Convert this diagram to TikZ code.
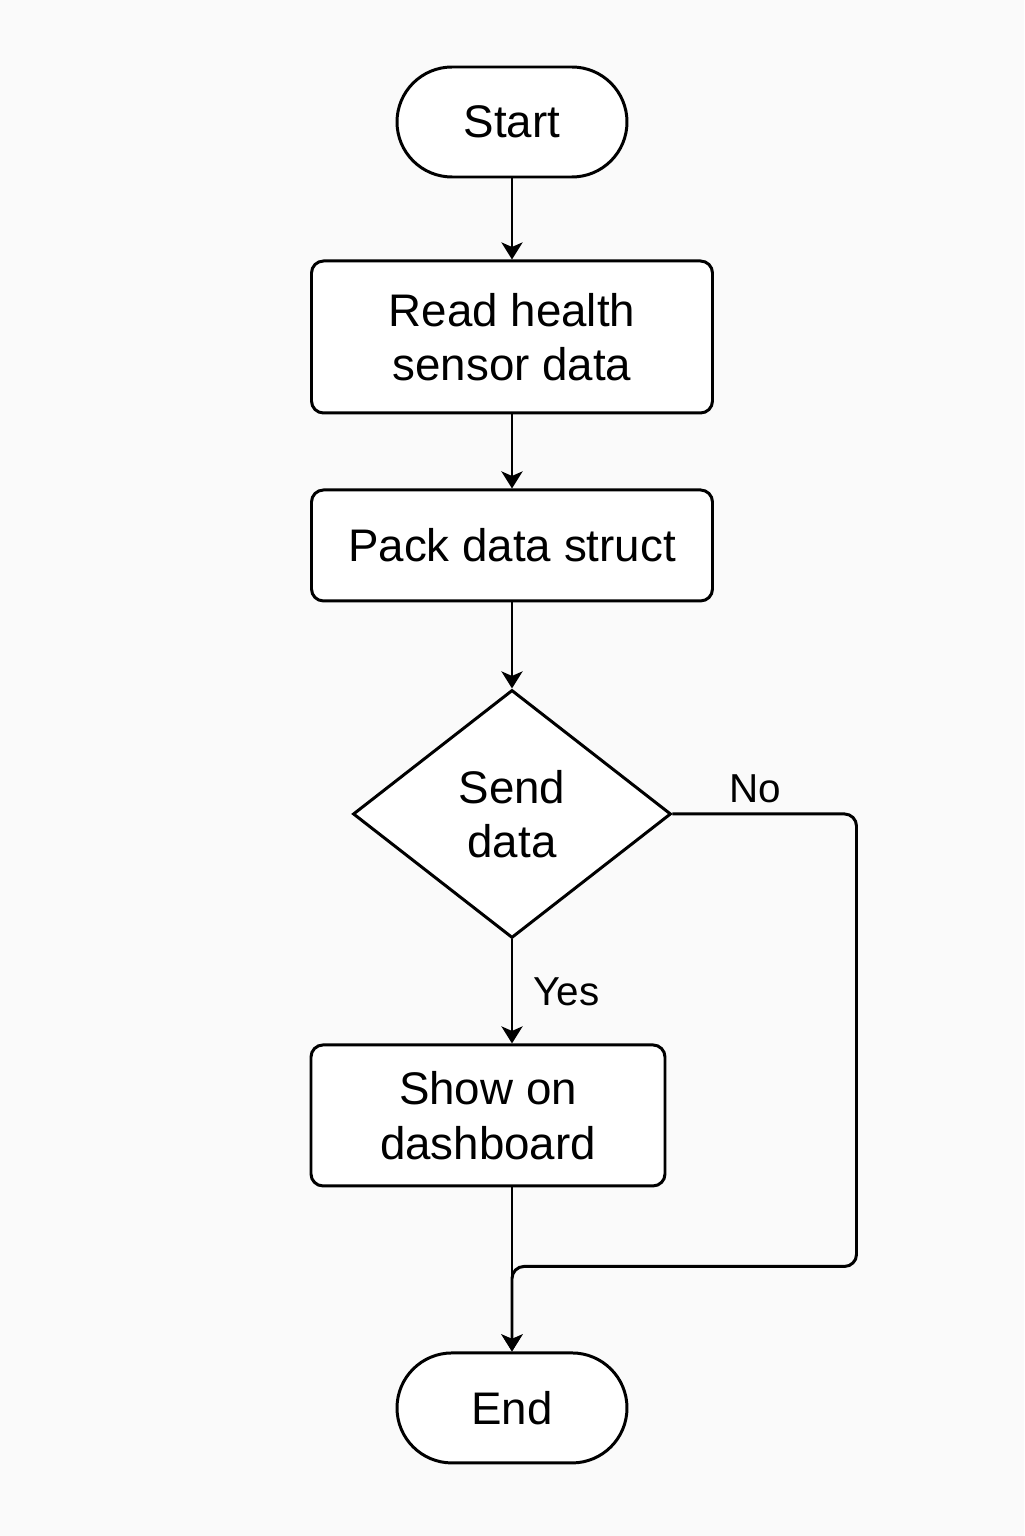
\documentclass[tikz,border=0pt]{standalone}
\usepackage{fontspec}
\setmainfont{Liberation Sans}
\usepackage{tikz}
\usetikzlibrary{arrows.meta,shapes,positioning}
\definecolor{paper}{RGB}{250,250,250}

\begin{document}
\begin{tikzpicture} [
       >={Stealth[length=0.34cm,width=0.42cm,inset=0.09cm]}, black, text=black, line width=1.7pt,
       every node/.style={font=\fontsize{26}{31}\selectfont},
       terminal/.style 2 args = {rectangle, rounded corners=1.1cm, draw, fill=white,
                                 minimum width=#1, minimum height=#2},
       process/.style 2 args  = {rectangle, rounded corners=0.24cm, draw, fill=white,
                                 minimum width=#1, minimum height=#2, align=center},
       decision/.style 2 args = {diamond, draw, fill=white, inner sep=0pt,
                                 minimum width=#1, minimum height=#2, align=center},
       edgelabel/.style = {inner sep=0pt, font=\fontsize{23}{27}\selectfont}]
	%% Page
	\useasboundingbox[fill=paper] (-10.24,2.44) rectangle (10.24,-28.28);

	%% Start
	\node [terminal={4.6cm}{2.2cm}] (start) at (0,0) {Start};

	%% Reading and packing
	\node [process={8.02cm}{3.04cm},below = 1.62cm of start] (read) {Read health\\sensor data};
	\node [process={8.02cm}{2.22cm},below = 1.48cm of read] (pack) {Pack data struct};

	%% Decision
	\node [decision={6.36cm}{4.96cm},below = 1.72cm of pack] (send) {Send\\data};

	%% Dashboard
	\node [process={7.08cm}{2.82cm},below = 2.08cm of send,xshift=-0.48cm] (show) {Show on\\dashboard};

	%% End
	\node [terminal={4.6cm}{2.2cm},below = 3.28cm of show,xshift=0.48cm] (finish) {End};

	%% Helper points
	\coordinate [right = 3.68cm of send.east] (noturn);
	\coordinate [above = 1.7cm of finish.north] (join);

	%% Paths
	\draw[->] (start) -- (read);
	\draw[->] (read) -- (pack);
	\draw[->] (pack) -- (send);
	\draw[->] (send.south) -- (send.south |- show.north)
	          node[edgelabel,right=0.4cm,midway] {Yes};
	\draw[->] (show.south -| finish.north) -- (finish.north);
	\draw[->,rounded corners=0.24cm] (send.east) -- (noturn)
	          node[edgelabel,above=0.2cm,pos=0.45] {No}
	          |- (join) -- (finish.north);
\end{tikzpicture}
\end{document}
